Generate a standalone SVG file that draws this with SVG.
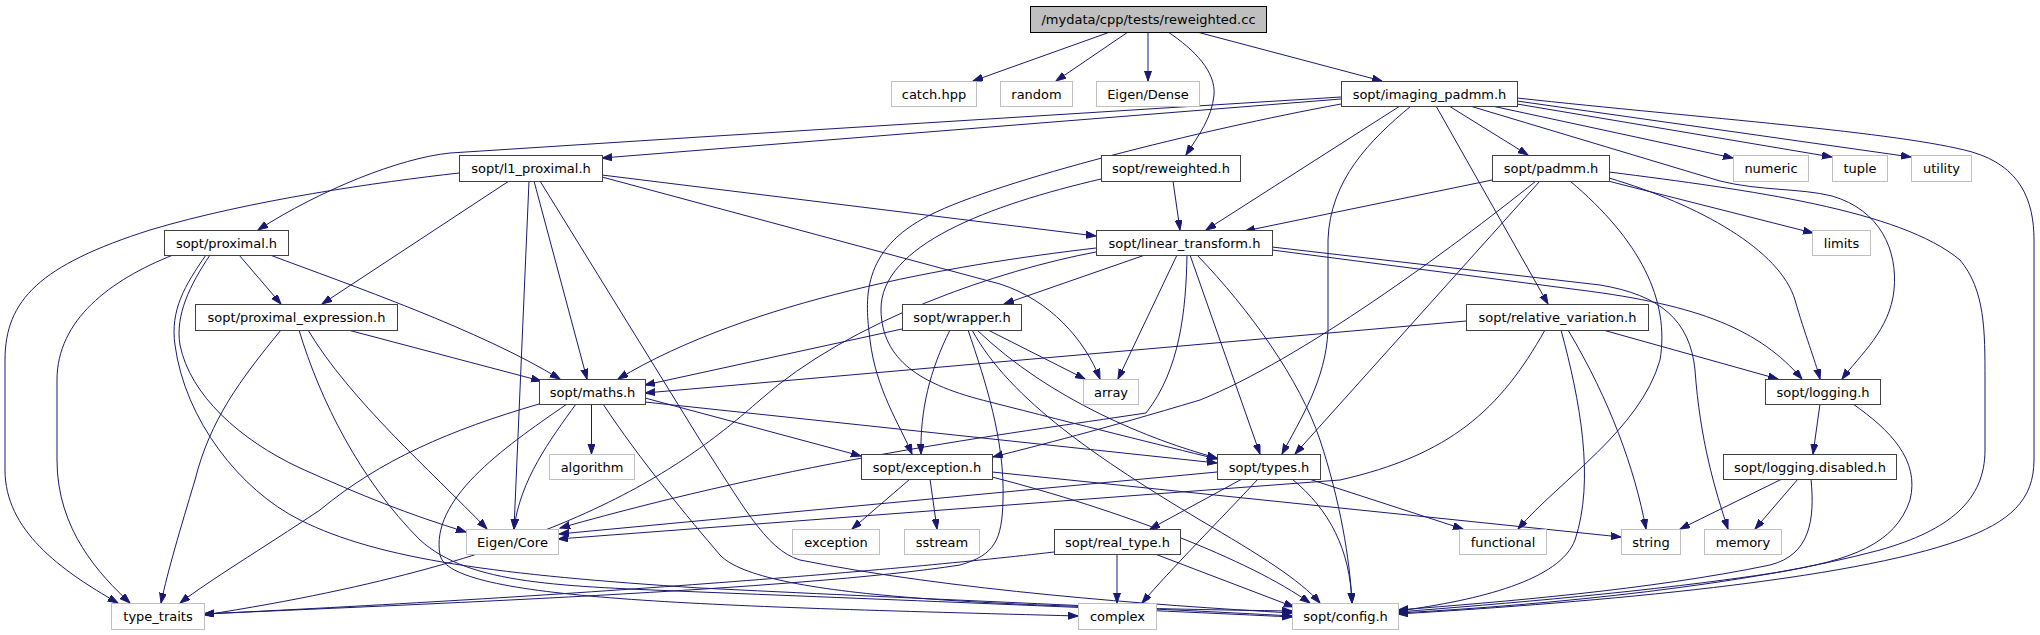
<svg xmlns="http://www.w3.org/2000/svg" width="2040" height="635" viewBox="0 0 2040 635">
<defs>
<marker id="a" markerWidth="11" markerHeight="8" refX="10" refY="3.5" orient="auto" markerUnits="userSpaceOnUse"><path d="M0,0 L10,3.5 L0,7 z" fill="#191970" stroke="#191970" stroke-width="1"/></marker>
<style>
rect{fill:#fff;stroke:#404040;stroke-width:1}
.s rect{stroke:#bfbfbf}
.r rect{fill:#bfbfbf;stroke:#000}
text{font-family:"DejaVu Sans","Liberation Sans",sans-serif;font-size:13px;text-anchor:middle;fill:#000}
#edges path{fill:none;stroke:#191970;stroke-width:1;marker-end:url(#a)}
</style>
</defs>
<rect x="0" y="0" width="2040" height="635" style="fill:#fff;stroke:none"/>
<g id="edges">
<path d="M1110,32 L973,81"/>
<path d="M1128,32 L1056,81"/>
<path d="M1148,32 L1148,81"/>
<path d="M1168,32 C1195,50 1216,72 1214,95 C1212,118 1198,136 1186,155"/>
<path d="M1197,32 L1382,81"/>
<path d="M1341,99 L602,158"/>
<path d="M1341,97 L700,137 L450,153 C400,158 320,190 258,230"/>
<path d="M1341,104 C1200,130 1000,180 930,215 C860,250 865,300 870,340 C876,390 900,425 912,454"/>
<path d="M1400,106 L1206,230"/>
<path d="M1411,106 C1370,140 1330,180 1328,240 L1328,330 C1326,380 1300,420 1282,454"/>
<path d="M1436,106 L1548,304"/>
<path d="M1449,106 L1528,155"/>
<path d="M1470,106 L1720,181 C1760,191 1800,188 1832,196 C1880,210 1898,250 1894,290 C1890,330 1860,355 1842,379"/>
<path d="M1492,106 L1733,158"/>
<path d="M1517,104 L1832,157"/>
<path d="M1517,101 L1911,157"/>
<path d="M1517,98 C1700,118 1900,132 1972,152 C2020,166 2034,200 2034,240 L2034,460 C2034,500 2010,522 1960,540 C1850,580 1600,602 1398,614"/>
<path d="M1173,181 L1180,230"/>
<path d="M1101,179 C990,205 880,245 881,310 C882,360 920,385 990,402 C1080,425 1160,445 1217,459"/>
<path d="M509,181 L322,304"/>
<path d="M529,181 L514,529"/>
<path d="M534,181 L587,379"/>
<path d="M540,181 L700,440 C740,500 765,550 800,560 C950,590 1150,605 1292,613"/>
<path d="M459,173 C380,182 250,200 150,230 C40,265 5,300 5,360 L5,470 C5,530 60,570 118,603"/>
<path d="M602,175 L1096,236"/>
<path d="M602,177 L1000,284 C1050,300 1085,340 1100,379"/>
<path d="M239,255 L281,304"/>
<path d="M270,255 C350,285 480,330 560,379"/>
<path d="M173,255 C110,280 57,320 57,380 L57,460 C57,530 100,575 130,603"/>
<path d="M210,255 C190,285 175,315 180,345 C190,395 240,440 300,468 C360,495 410,515 466,532"/>
<path d="M206,255 C185,285 170,310 175,345 C185,420 240,490 300,520 C380,560 500,575 700,588 C900,598 1150,608 1292,616"/>
<path d="M281,330 C240,380 210,420 195,480 C180,530 168,570 161,603"/>
<path d="M299,330 C320,400 360,480 420,540 C470,585 560,586 700,592 C900,600 1150,610 1292,617"/>
<path d="M308,330 C350,400 430,470 487,529"/>
<path d="M348,330 L541,381"/>
<path d="M539,404 C450,430 380,460 320,510 C260,550 210,580 180,603"/>
<path d="M567,404 C500,450 430,500 440,555 C450,600 700,606 1078,616"/>
<path d="M576,404 C550,440 520,480 514,529"/>
<path d="M591.5,404 L591.5,454"/>
<path d="M603,404 C640,460 690,520 720,555 C760,598 1000,607 1292,611"/>
<path d="M645,398 L861,456"/>
<path d="M645,402 L1217,463"/>
<path d="M1096,248 C950,265 750,300 618,379"/>
<path d="M1096,252 C1000,270 850,320 760,400 C680,470 560,560 204,615"/>
<path d="M1145,255 L1004,304"/>
<path d="M1177,255 L1118,379"/>
<path d="M1187,255 C1186,310 1180,370 1146,413 C1000,435 800,460 560,528"/>
<path d="M1190,255 L1260,454"/>
<path d="M1197,255 C1250,310 1300,380 1320,440 C1340,500 1350,560 1352,603"/>
<path d="M1272,247 L1600,285 C1660,295 1690,320 1695,370 C1700,440 1715,490 1728,529"/>
<path d="M1272,250 L1580,290 C1700,305 1760,330 1802,379"/>
<path d="M902,329 L645,385"/>
<path d="M950,330 C930,370 920,410 921,454"/>
<path d="M968,330 C985,380 1005,440 1003,500 C1002,540 995,555 960,565 C800,590 400,605 204,614"/>
<path d="M972,330 C1010,400 1100,460 1200,520 C1260,555 1300,580 1320,603"/>
<path d="M977,330 C1050,400 1150,440 1217,458"/>
<path d="M988,330 L1085,379"/>
<path d="M910,479 L852,529"/>
<path d="M930,479 L937,529"/>
<path d="M992,472 L1621,537"/>
<path d="M992,477 C1120,510 1250,560 1310,603"/>
<path d="M1217,472 L559,534"/>
<path d="M1242,479 L1150,529"/>
<path d="M1258,479 C1220,520 1170,570 1142,603"/>
<path d="M1292,479 C1330,510 1350,550 1352,603"/>
<path d="M1309,479 L1463,529"/>
<path d="M1054,552 C900,570 600,595 204,614"/>
<path d="M1117,554 L1117,603"/>
<path d="M1155,554 L1294,607"/>
<path d="M1466,321 L645,393"/>
<path d="M1545,330 C1500,410 1450,455 1340,480 L558,539"/>
<path d="M1561,330 C1580,400 1595,480 1575,540 C1560,580 1480,600 1398,611"/>
<path d="M1568,330 C1610,400 1635,470 1646,529"/>
<path d="M1603,330 L1778,379"/>
<path d="M1492,180 L1245,231"/>
<path d="M1536,181 C1450,250 1300,360 1200,400 C1100,430 1040,445 993,457"/>
<path d="M1540,181 L1295,454"/>
<path d="M1570,181 C1640,240 1670,300 1660,360 C1640,430 1560,480 1518,529"/>
<path d="M1604,180 L1813,233"/>
<path d="M1609,178 C1700,205 1780,250 1795,300 C1805,335 1815,360 1820,379"/>
<path d="M1609,172 C1750,190 1900,210 1960,260 C1985,290 1985,330 1985,380 L1985,450 C1985,500 1950,530 1880,550 C1750,585 1550,605 1398,613"/>
<path d="M1820,404 L1813,454"/>
<path d="M1853,404 C1890,430 1920,460 1910,500 C1895,545 1850,560 1780,572 C1650,592 1500,604 1398,612"/>
<path d="M1782,479 L1680,529"/>
<path d="M1798,479 L1755,529"/>
<path d="M1811,479 C1815,520 1810,555 1770,565 C1650,590 1500,602 1398,610"/>
</g>
<g id="n_root" class="r"><rect x="1030.5" y="6.5" width="236" height="26"/><text x="1148.5" y="24">/mydata/cpp/tests/reweighted.cc</text></g>
<g id="n_catch" class="s"><rect x="891.5" y="81.5" width="85" height="25"/><text x="934" y="98.5">catch.hpp</text></g>
<g id="n_random" class="s"><rect x="1000.5" y="81.5" width="72" height="25"/><text x="1036.5" y="98.5">random</text></g>
<g id="n_eigendense" class="s"><rect x="1096.5" y="81.5" width="103" height="25"/><text x="1148" y="98.5">Eigen/Dense</text></g>
<g id="n_imaging" class="n"><rect x="1341.5" y="81.5" width="176" height="25"/><text x="1429.5" y="98.5">sopt/imaging_padmm.h</text></g>
<g id="n_l1" class="n"><rect x="459.5" y="155.5" width="143" height="26"/><text x="531" y="173">sopt/l1_proximal.h</text></g>
<g id="n_reweighted" class="n"><rect x="1101.5" y="155.5" width="139" height="26"/><text x="1171" y="173">sopt/reweighted.h</text></g>
<g id="n_padmm" class="n"><rect x="1492.5" y="155.5" width="117" height="26"/><text x="1551" y="173">sopt/padmm.h</text></g>
<g id="n_numeric" class="s"><rect x="1733.5" y="155.5" width="75" height="26"/><text x="1771" y="173">numeric</text></g>
<g id="n_tuple" class="s"><rect x="1832.5" y="155.5" width="55" height="26"/><text x="1860" y="173">tuple</text></g>
<g id="n_utility" class="s"><rect x="1911.5" y="155.5" width="60" height="26"/><text x="1941.5" y="173">utility</text></g>
<g id="n_proximal" class="n"><rect x="164.5" y="230.5" width="124" height="25"/><text x="226.5" y="247.5">sopt/proximal.h</text></g>
<g id="n_linear" class="n"><rect x="1096.5" y="230.5" width="176" height="25"/><text x="1184.5" y="247.5">sopt/linear_transform.h</text></g>
<g id="n_limits" class="s"><rect x="1812.5" y="230.5" width="58" height="25"/><text x="1841.5" y="247.5">limits</text></g>
<g id="n_proxexpr" class="n"><rect x="195.5" y="304.5" width="202" height="26"/><text x="296.5" y="322">sopt/proximal_expression.h</text></g>
<g id="n_wrapper" class="n"><rect x="902.5" y="304.5" width="119" height="26"/><text x="962" y="322">sopt/wrapper.h</text></g>
<g id="n_relvar" class="n"><rect x="1466.5" y="304.5" width="182" height="26"/><text x="1557.5" y="322">sopt/relative_variation.h</text></g>
<g id="n_maths" class="n"><rect x="539.5" y="379.5" width="106" height="25"/><text x="592.5" y="396.5">sopt/maths.h</text></g>
<g id="n_array" class="s"><rect x="1083.5" y="379.5" width="55" height="25"/><text x="1111" y="396.5">array</text></g>
<g id="n_logging" class="n"><rect x="1765.5" y="379.5" width="115" height="25"/><text x="1823" y="396.5">sopt/logging.h</text></g>
<g id="n_algorithm" class="s"><rect x="549.5" y="454.5" width="85" height="25"/><text x="592" y="471.5">algorithm</text></g>
<g id="n_exceptionh" class="n"><rect x="861.5" y="454.5" width="131" height="25"/><text x="927" y="471.5">sopt/exception.h</text></g>
<g id="n_types" class="n"><rect x="1217.5" y="454.5" width="103" height="25"/><text x="1269" y="471.5">sopt/types.h</text></g>
<g id="n_logdis" class="n"><rect x="1723.5" y="454.5" width="173" height="25"/><text x="1810" y="471.5">sopt/logging.disabled.h</text></g>
<g id="n_eigencore" class="s"><rect x="466.5" y="529.5" width="92" height="25"/><text x="512.5" y="546.5">Eigen/Core</text></g>
<g id="n_exception" class="s"><rect x="792.5" y="529.5" width="87" height="25"/><text x="836" y="546.5">exception</text></g>
<g id="n_sstream" class="s"><rect x="904.5" y="529.5" width="75" height="25"/><text x="942" y="546.5">sstream</text></g>
<g id="n_realtype" class="n"><rect x="1054.5" y="529.5" width="126" height="25"/><text x="1117.5" y="546.5">sopt/real_type.h</text></g>
<g id="n_functional" class="s"><rect x="1459.5" y="529.5" width="87" height="25"/><text x="1503" y="546.5">functional</text></g>
<g id="n_string" class="s"><rect x="1621.5" y="529.5" width="59" height="25"/><text x="1651" y="546.5">string</text></g>
<g id="n_memory" class="s"><rect x="1704.5" y="529.5" width="77" height="25"/><text x="1743" y="546.5">memory</text></g>
<g id="n_typetraits" class="s"><rect x="111.5" y="603.5" width="93" height="26"/><text x="158" y="621">type_traits</text></g>
<g id="n_complex" class="s"><rect x="1078.5" y="603.5" width="78" height="26"/><text x="1117.5" y="621">complex</text></g>
<g id="n_config" class="s"><rect x="1292.5" y="603.5" width="106" height="26"/><text x="1345.5" y="621">sopt/config.h</text></g>
</svg>
